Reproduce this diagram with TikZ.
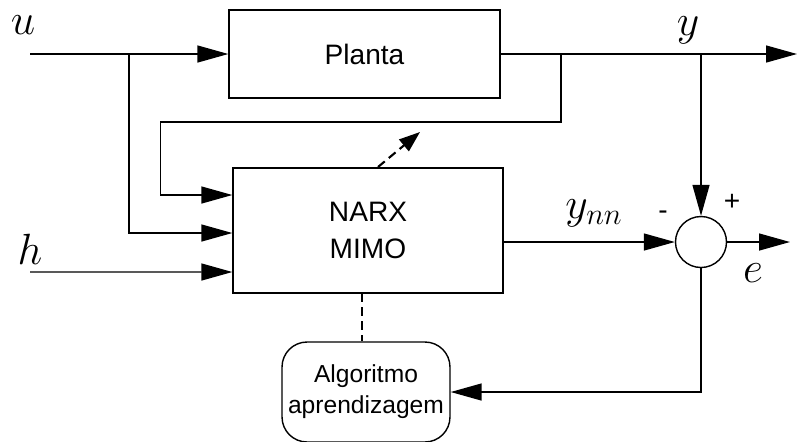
\documentclass[tikz,border=0pt]{standalone}
\usepackage{fontspec}
\setmainfont{Liberation Sans}
\usetikzlibrary{arrows.meta, positioning, calc}

\begin{document}
\begin{tikzpicture}[
    x=0.02cm, y=-0.02cm,
    block/.style={rectangle, draw, line width=0.8pt, align=center,
                  font=\fontsize{16}{21.5}\selectfont},
    algbox/.style={rectangle, rounded corners=0.5cm, draw, line width=0.8pt, align=center,
                   minimum width=3.36cm, minimum height=2cm, font=\fontsize{14}{17.6}\selectfont},
    sumnode/.style={circle, draw, line width=0.8pt, minimum size=1.02cm, inner sep=0pt},
    sig/.style={font=\fontsize{23}{27}\selectfont, inner sep=0pt},
    sgn/.style={font=\fontsize{16}{18}\selectfont, inner sep=0pt},
    arr/.style={-{Triangle[length=0.62cm,width=0.34cm]}, line width=0.8pt},
    dsh/.style={line width=1.2pt, dash pattern=on 5pt off 3pt},
]
    \useasboundingbox (0,0) rectangle (797,441);

    \node[block, minimum width=5.42cm, minimum height=1.76cm] (planta) at (364.5,54) {Planta};
    \node[block, minimum width=5.4cm, minimum height=2.5cm] (narx) at (368,230.5) {NARX\\MIMO};
    \node[algbox] (alg) at (366,392) {Algoritmo\\aprendizagem};
    \node[sumnode] (sum) at (701,242) {};

    % entradas e ramificacoes
    \coordinate (uin) at (30,54);
    \coordinate (ubr) at (129,54);
    \coordinate (hin) at (30,272);
    \coordinate (ybr) at (561,54);
    \coordinate (ysum) at (701,54);
    \coordinate (yout) at (797,54);
    \coordinate (eout) at (790,242);
    \coordinate (n1) at ($(narx.west)+(0,-35.5)$);
    \coordinate (n2) at ($(narx.west)+(0,2.5)$);
    \coordinate (n3) at ($(narx.west)+(0,41.5)$);
    \coordinate (lrn) at (362,293);
    \coordinate (adj0) at (378,167);
    \coordinate (adj1) at (420,132);

    \draw[arr] (uin) -- (planta.west);
    \draw[arr] (planta.east) -- (yout);
    \draw[arr] (ubr) |- (n2);
    \draw[arr] (hin) -- (n3);
    \draw[arr] (ybr) -- ++(0,68) -| ($(n1)+(-72,0)$) -- (n1);
    \draw[arr] (narx.east |- sum) -- (sum.west);
    \draw[arr] (ysum) -- (sum.north);
    \draw[arr] (sum.east) -- (eout);
    \draw[arr] (sum.south) |- (alg.east);
    \draw[dsh] (lrn) -- (lrn |- alg.north);
    \draw[dsh, -{Triangle[length=0.42cm,width=0.3cm]}] (adj0) -- (adj1);

    % rotulos
    \node[sig] (ulab) at (23,25) {$u$};
    \node[sig] (ylab) at (688,30) {$y$};
    \node[sig] (hlab) at (30,249) {$h$};
    \node[sig] (ynnlab) at (594,213) {$y_{nn}$};
    \node[sgn] (minus) at (663,215) {-};
    \node[sgn] (plus) at (732,202) {+};
    \node[sig] (elab) at (753,273) {$e$};
\end{tikzpicture}
\end{document}
